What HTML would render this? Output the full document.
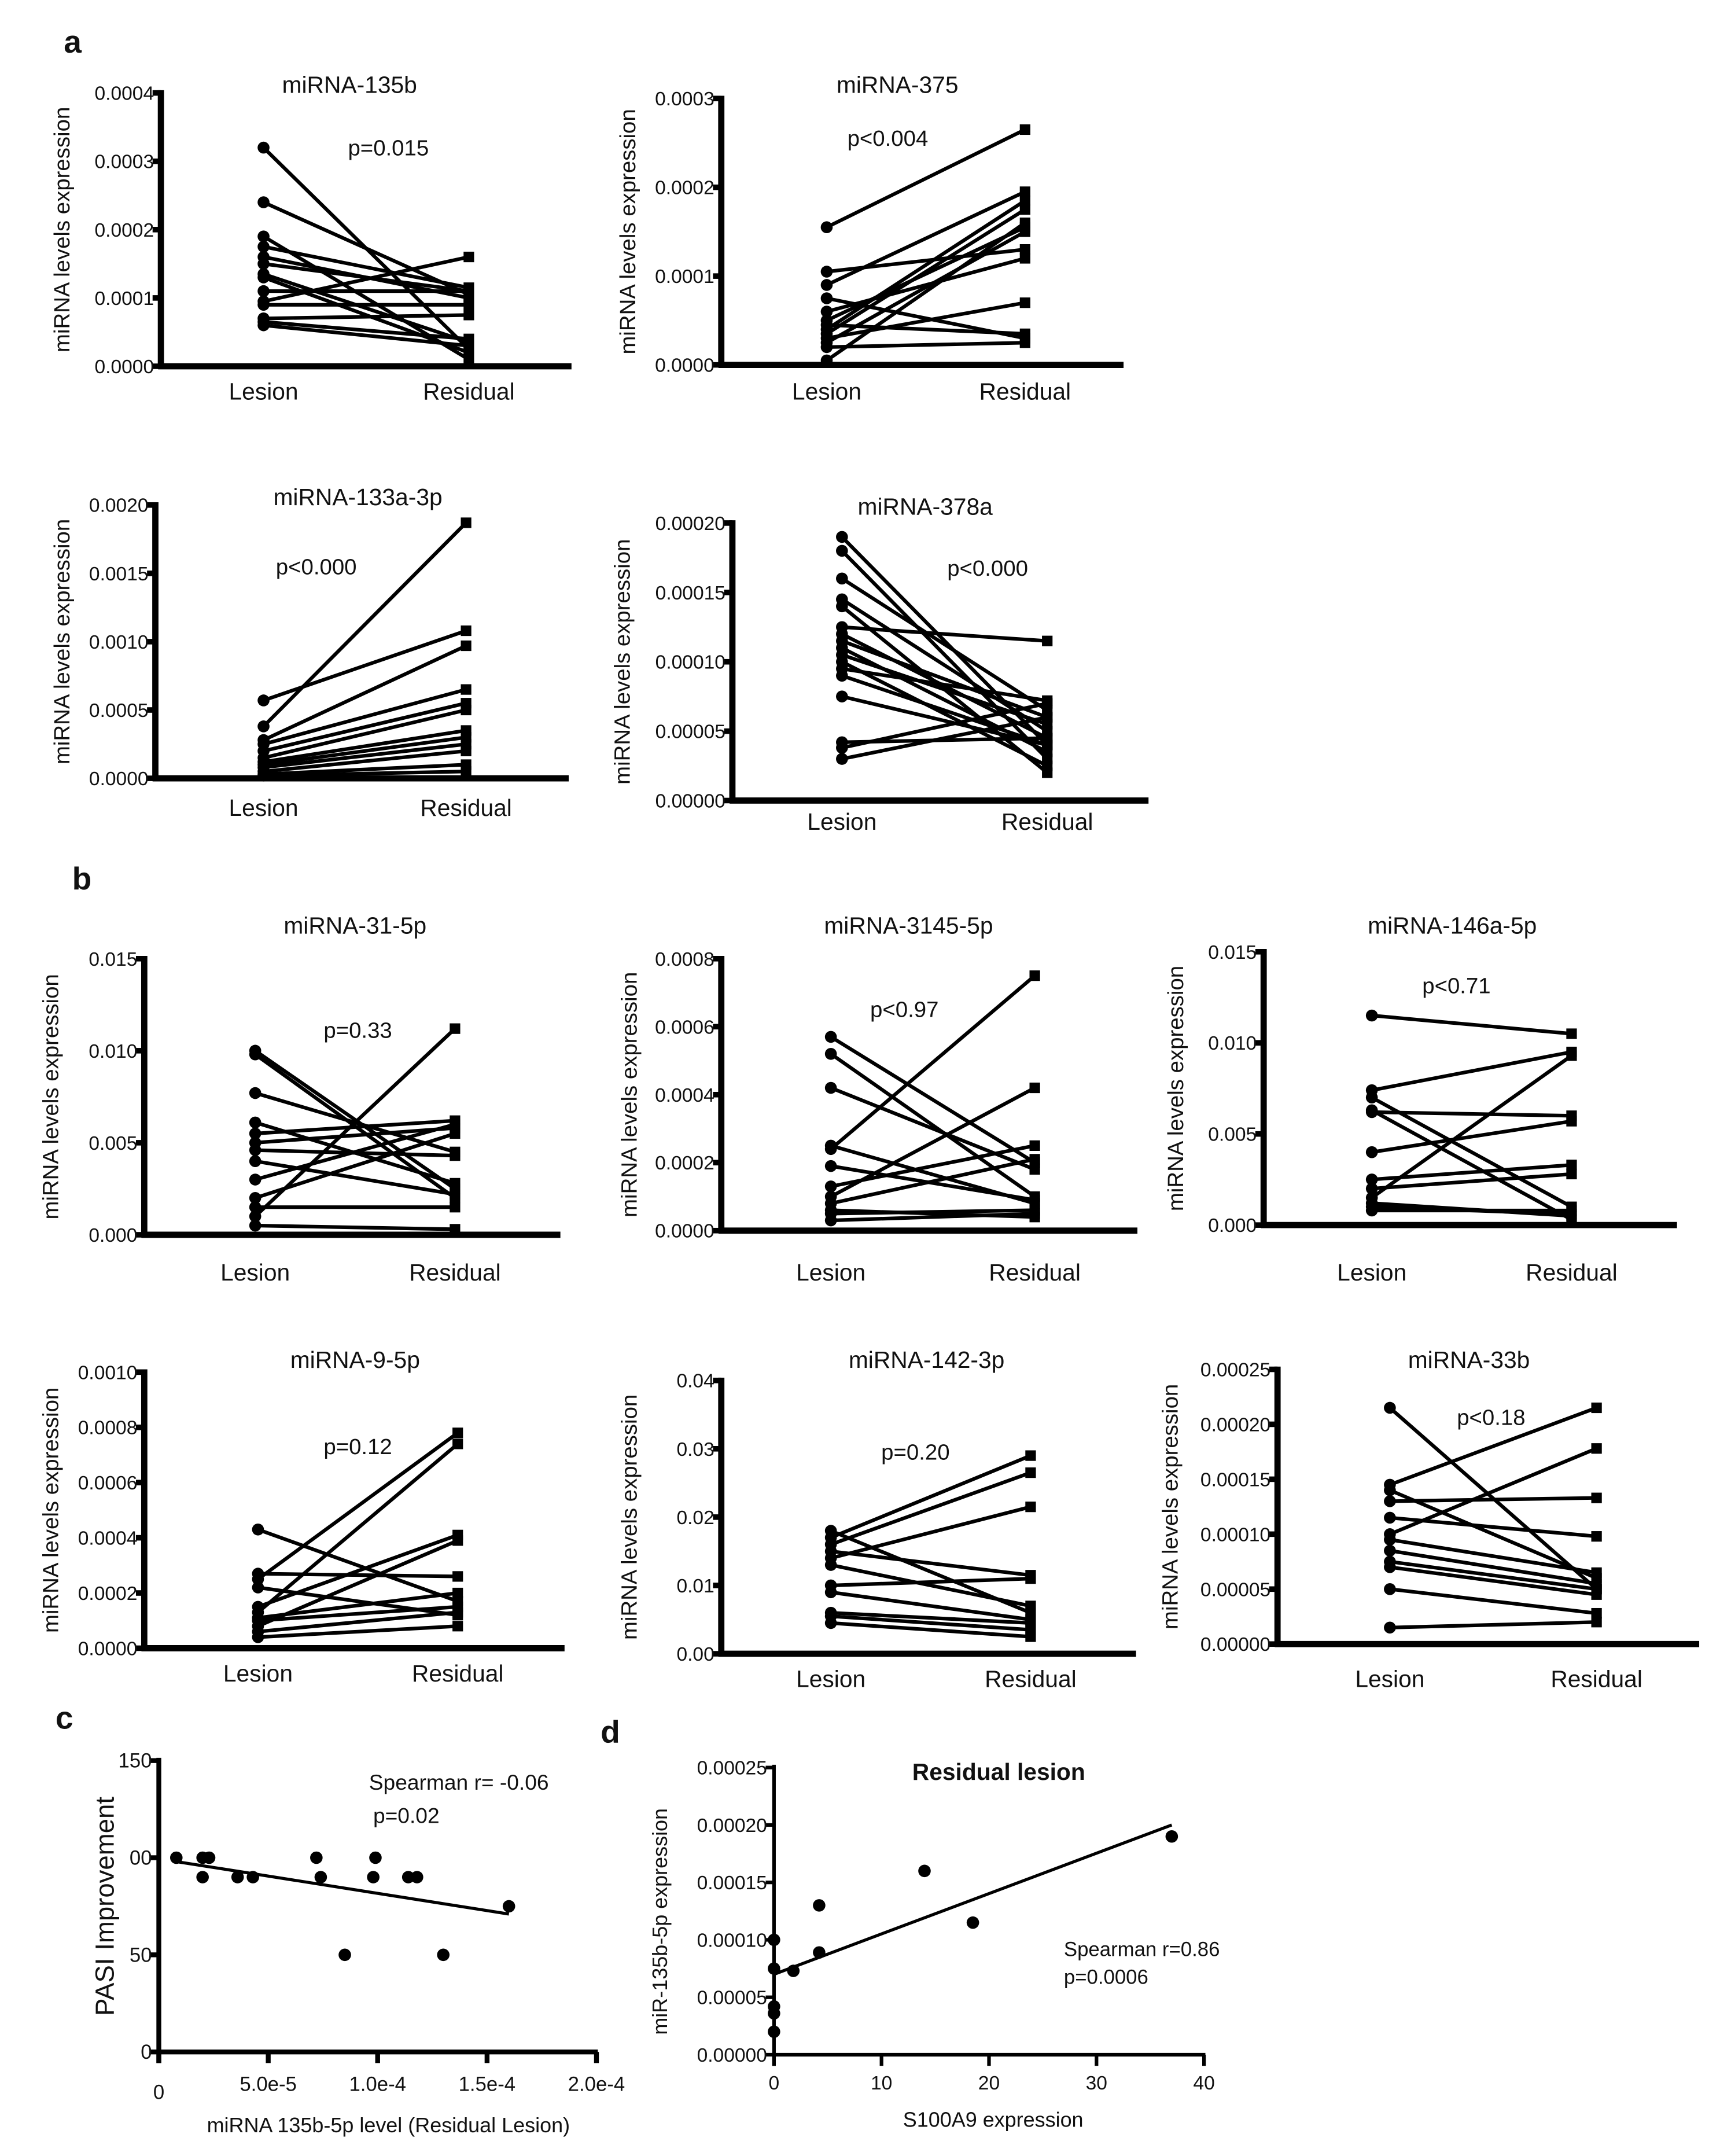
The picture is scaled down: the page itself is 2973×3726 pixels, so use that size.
<!DOCTYPE html>
<html><head><meta charset="utf-8">
<style>
html,body{margin:0;padding:0;background:#fff;}
svg{display:block;}
text{font-family:"Liberation Sans",sans-serif;fill:#111;}
.t{font-family:"Liberation Sans",sans-serif;}
</style></head>
<body>
<svg id="fig" width="2973" height="3726" viewBox="0 0 1240 1554" preserveAspectRatio="none" xmlns="http://www.w3.org/2000/svg">
<text class="t" x="46" y="38" font-size="23" font-weight="bold">a</text>
<text class="t" x="52" y="641" font-size="23" font-weight="bold">b</text>
<text class="t" x="40" y="1246" font-size="23" font-weight="bold">c</text>
<text class="t" x="433" y="1256" font-size="23" font-weight="bold">d</text>
</svg>
<script>
// ---- paired panel data (lesion vs residual) ----
const a1Lesion=[3.2e-4,2.4e-4,1.9e-4,1.75e-4,1.6e-4,1.5e-4,1.35e-4,1.3e-4,1.1e-4,0.95e-4,0.9e-4,0.7e-4,0.65e-4,0.6e-4];
const a1Residual=[0.25e-4,1.05e-4,0.1e-4,1.15e-4,1.0e-4,1.1e-4,0.35e-4,0.2e-4,1.1e-4,1.6e-4,0.9e-4,0.75e-4,0.4e-4,0.3e-4];
const a1Ticks=["0.0000","0.0001","0.0002","0.0003","0.0004"];
const a2Lesion=[1.55e-4,1.05e-4,0.9e-4,0.75e-4,0.6e-4,0.5e-4,0.45e-4,0.4e-4,0.35e-4,0.3e-4,0.25e-4,0.2e-4,0.05e-4];
const a2Residual=[2.65e-4,1.3e-4,1.95e-4,0.3e-4,1.2e-4,1.55e-4,0.35e-4,1.85e-4,1.75e-4,0.7e-4,1.5e-4,0.25e-4,1.6e-4];
const a2Ticks=["0.0000","0.0001","0.0002","0.0003"];
const a3Lesion=[0.57e-3,0.38e-3,0.28e-3,0.25e-3,0.2e-3,0.15e-3,0.12e-3,0.1e-3,0.08e-3,0.05e-3,0.03e-3,0.02e-3];
const a3Residual=[1.08e-3,1.87e-3,0.97e-3,0.65e-3,0.55e-3,0.5e-3,0.35e-3,0.3e-3,0.25e-3,0.2e-3,0.1e-3,0.05e-3];
const a3Ticks=["0.0000","0.0005","0.0010","0.0015","0.0020"];
const a4Lesion=[1.9e-4,1.8e-4,1.6e-4,1.45e-4,1.4e-4,1.25e-4,1.2e-4,1.15e-4,1.1e-4,1.05e-4,1.0e-4,0.95e-4,0.9e-4,0.75e-4,0.42e-4,0.38e-4,0.3e-4];
const a4Residual=[0.4e-4,0.3e-4,0.65e-4,0.5e-4,0.2e-4,1.15e-4,0.45e-4,0.6e-4,0.35e-4,0.55e-4,0.25e-4,0.72e-4,0.4e-4,0.4e-4,0.45e-4,0.7e-4,0.6e-4];
const a4Ticks=["0.00000","0.00005","0.00010","0.00015","0.00020"];
const b1Lesion=[10e-3,9.8e-3,7.7e-3,6.1e-3,5.5e-3,5e-3,4.6e-3,4e-3,3e-3,2e-3,1.5e-3,1e-3,0.5e-3];
const b1Residual=[2.5e-3,2.0e-3,4.5e-3,2.8e-3,6.2e-3,5.8e-3,4.3e-3,2.2e-3,6e-3,5.5e-3,1.5e-3,11.2e-3,0.3e-3];
const b1Ticks=["0.000","0.005","0.010","0.015"];
const b2Lesion=[5.7e-4,5.2e-4,4.2e-4,2.5e-4,2.4e-4,1.9e-4,1.3e-4,1.0e-4,0.8e-4,0.6e-4,0.5e-4,0.3e-4];
const b2Residual=[2.0e-4,1.0e-4,1.8e-4,0.8e-4,7.5e-4,0.9e-4,2.5e-4,4.2e-4,2.1e-4,0.4e-4,0.6e-4,0.5e-4];
const b2Ticks=["0.0000","0.0002","0.0004","0.0006","0.0008"];
const b3Lesion=[11.5e-3,7.4e-3,7e-3,6.3e-3,6.2e-3,4e-3,2.5e-3,2e-3,1.5e-3,1.2e-3,1e-3,0.8e-3];
const b3Residual=[10.5e-3,9.5e-3,1e-3,0.3e-3,6e-3,5.7e-3,3.3e-3,2.8e-3,9.3e-3,0.5e-3,0.6e-3,0.8e-3];
const b3Ticks=["0.000","0.005","0.010","0.015"];
const b4Lesion=[4.3e-4,2.7e-4,2.5e-4,2.2e-4,1.5e-4,1.3e-4,1.1e-4,1e-4,0.8e-4,0.6e-4,0.4e-4];
const b4Residual=[1.7e-4,2.6e-4,7.8e-4,1.2e-4,4.1e-4,7.4e-4,2.0e-4,1.5e-4,3.9e-4,1.3e-4,0.8e-4];
const b4Ticks=["0.0000","0.0002","0.0004","0.0006","0.0008","0.0010"];
const b5Lesion=[18e-3,17e-3,16e-3,15e-3,14e-3,13e-3,10e-3,9e-3,6e-3,5.5e-3,4.5e-3];
const b5Residual=[6e-3,29e-3,26.5e-3,11.5e-3,21.5e-3,7e-3,11e-3,5e-3,4.5e-3,3.5e-3,2.5e-3];
const b5Ticks=["0.00","0.01","0.02","0.03","0.04"];
const b6Lesion=[21.5e-5,14.5e-5,14e-5,13e-5,11.5e-5,10e-5,9.5e-5,8.5e-5,7.5e-5,7e-5,5e-5,1.5e-5];
const b6Residual=[5e-5,21.5e-5,6e-5,13.3e-5,9.8e-5,17.8e-5,6.5e-5,5.5e-5,5e-5,4.5e-5,2.8e-5,2e-5];
const b6Ticks=["0.00000","0.00005","0.00010","0.00015","0.00020","0.00025"];
// ---- panel c ----
const cX=[0.8e-5,2e-5,2.3e-5,2e-5,3.6e-5,4.3e-5,7.2e-5,7.4e-5,8.5e-5,9.9e-5,9.8e-5,1.14e-4,1.18e-4,1.3e-4,1.6e-4];
const cY=[100,100,100,90,90,90,100,90,50,100,90,90,90,50,75];
const cFitX=[0.8e-5,1.6e-4];
const cFitY=[98,71];
const cYTicks=["0","50","00","150"];
const cYTickVals=[0,50,100,150];
const cXTicks=["0","5.0e-5","1.0e-4","1.5e-4","2.0e-4"];
const cXTickVals=[0,5e-5,1e-4,1.5e-4,2e-4];
// ---- panel d ----
const dX=[0,0,0,0,0,1.8,4.2,4.2,14,18.5,37];
const dY=[1e-4,0.75e-4,0.42e-4,0.36e-4,0.2e-4,0.73e-4,1.3e-4,0.89e-4,1.6e-4,1.15e-4,1.9e-4];
const dFitX=[0,37];
const dFitY=[0.7e-4,2.0e-4];
const dYTicks=["0.00000","0.00005","0.00010","0.00015","0.00020","0.00025"];
const dYTickVals=[0,5e-5,1e-4,1.5e-4,2e-4,2.5e-4];
const dXTicks=["0","10","20","30","40"];
const dXTickVals=[0,10,20,30,40];

const NS="http://www.w3.org/2000/svg";
const svg=document.getElementById('fig');
function mk(tag,attrs,parent){const e=document.createElementNS(NS,tag);for(const k in attrs)e.setAttribute(k,attrs[k]);(parent||svg).appendChild(e);return e;}
function txt(s,attrs,parent){const e=mk('text',attrs,parent);e.textContent=s;return e;}

function paired(id,title,pText,cfg,lesion,residual,ticks){
  const g=mk('g',{});
  
  
  const yMax=cfg.max;
  const ys=v=>cfg.y0-(v/yMax)*(cfg.y0-cfg.yt);
  for(let i=0;i<lesion.length;i++){
    const l=mk('line',{x1:cfg.xl,y1:ys(lesion[i]),x2:cfg.xr,y2:ys(residual[i]),stroke:'#000','stroke-width':2.6},g);
    
    
    const c=mk('circle',{cx:cfg.xl,cy:ys(lesion[i]),r:4.3,fill:'#000'},g);
    
    
    const r=mk('rect',{x:cfg.xr-3.8,y:ys(residual[i])-3.8,width:7.6,height:7.6,fill:'#000'},g);
    
    
  }
  const ya=mk('line',{x1:cfg.ax,y1:cfg.yt-2,x2:cfg.ax,y2:cfg.y0+2,stroke:'#000','stroke-width':4.5},g);
  
  
  const xa=mk('line',{x1:cfg.ax-2,y1:cfg.y0,x2:cfg.xend,y2:cfg.y0,stroke:'#000','stroke-width':4.5},g);
  
  
  const n=ticks.length-1;
  ticks.forEach((t,i)=>{
    const y=cfg.y0-(i/n)*(cfg.y0-cfg.yt);
    mk('line',{x1:cfg.ax-6,y1:y,x2:cfg.ax,y2:y,stroke:'#000','stroke-width':4},g);
    const tl=txt(t,{x:cfg.ax-5,y:y+5,'font-size':14,'text-anchor':'end'},g);
    
    
  });
  const t1=txt('Lesion',{class:'t',x:cfg.xl,y:cfg.xlab,'font-size':17,'text-anchor':'middle'},g);
  
  
  const t2=txt('Residual',{class:'t',x:cfg.xr,y:cfg.xlab,'font-size':17,'text-anchor':'middle'},g);
  
  
  const tt=txt(title,{class:'t',x:cfg.tx,y:cfg.ty,'font-size':17,'text-anchor':'middle'},g);
  
  
  const pt=txt(pText,{class:'t',x:cfg.px,y:cfg.py,'font-size':16,'text-anchor':'middle'},g);
  
  
  const yt=txt('miRNA levels expression',{class:'t','font-size':16,'text-anchor':'middle',transform:`translate(${cfg.ytx},${(cfg.y0+cfg.yt)/2}) rotate(-90)`},g);
  
  
}

paired('mirna-135b','miRNA-135b','p=0.015',{ax:116,y0:264,yt:67,max:4e-4,xl:190,xr:338,xend:412,xlab:288,tx:252,ty:67,px:280,py:112,ytx:50},a1Lesion,a1Residual,a1Ticks);
paired('mirna-375','miRNA-375','p<0.004',{ax:520,y0:263,yt:71,max:3e-4,xl:596,xr:739,xend:810,xlab:288,tx:647,ty:67,px:640,py:105,ytx:458},a2Lesion,a2Residual,a2Ticks);
paired('mirna-133a-3p','miRNA-133a-3p','p<0.000',{ax:112,y0:561,yt:364,max:2e-3,xl:190,xr:336,xend:410,xlab:588,tx:258,ty:364,px:228,py:414,ytx:50},a3Lesion,a3Residual,a3Ticks);
paired('mirna-378a','miRNA-378a','p<0.000',{ax:528,y0:577,yt:377,max:2e-4,xl:607,xr:755,xend:828,xlab:598,tx:667,ty:371,px:712,py:415,ytx:454},a4Lesion,a4Residual,a4Ticks);
paired('mirna-31-5p','miRNA-31-5p','p=0.33',{ax:104,y0:890,yt:691,max:0.015,xl:184,xr:328,xend:404,xlab:923,tx:256,ty:673,px:258,py:748,ytx:42},b1Lesion,b1Residual,b1Ticks);
paired('mirna-3145-5p','miRNA-3145-5p','p<0.97',{ax:520,y0:887,yt:691,max:8e-4,xl:599,xr:746,xend:820,xlab:923,tx:655,ty:673,px:652,py:733,ytx:459},b2Lesion,b2Residual,b2Ticks);
paired('mirna-146a-5p','miRNA-146a-5p','p<0.71',{ax:911,y0:883,yt:686,max:0.015,xl:989,xr:1133,xend:1209,xlab:923,tx:1047,ty:673,px:1050,py:716,ytx:853},b3Lesion,b3Residual,b3Ticks);
paired('mirna-9-5p','miRNA-9-5p','p=0.12',{ax:104,y0:1188,yt:989,max:1e-3,xl:186,xr:330,xend:407,xlab:1212,tx:256,ty:986,px:258,py:1048,ytx:42},b4Lesion,b4Residual,b4Ticks);
paired('mirna-142-3p','miRNA-142-3p','p=0.20',{ax:520,y0:1192,yt:995,max:0.04,xl:599,xr:743,xend:819,xlab:1216,tx:668,ty:986,px:660,py:1052,ytx:459},b5Lesion,b5Residual,b5Ticks);
paired('mirna-33b','miRNA-33b','p<0.18',{ax:921,y0:1185,yt:987,max:2.5e-4,xl:1002,xr:1151,xend:1225,xlab:1216,tx:1059,ty:986,px:1075,py:1027,ytx:849},b6Lesion,b6Residual,b6Ticks);

function scatter(id,cfg,X,Y,fx,fy,yT,yTV,xT,xTV){
  const g=mk('g',{});
  
  
  const xs=v=>cfg.ax+(v-cfg.xmin)/(cfg.xmax-cfg.xmin)*(cfg.xend-cfg.ax);
  const ys=v=>cfg.y0-(v-cfg.ymin)/(cfg.ymax-cfg.ymin)*(cfg.y0-cfg.yt);
  const ya=mk('line',{x1:cfg.ax,y1:cfg.yt-2,x2:cfg.ax,y2:cfg.y0+8,stroke:'#000','stroke-width':cfg.aw},g);
  
  
  const xa=mk('line',{x1:cfg.ax,y1:cfg.y0,x2:cfg.xend+1,y2:cfg.y0,stroke:'#000','stroke-width':cfg.aw},g);
  
  
  yT.forEach((t,i)=>{const y=ys(yTV[i]);
    mk('line',{x1:cfg.ax-6,y1:y,x2:cfg.ax,y2:y,stroke:'#000','stroke-width':cfg.aw},g);
    const tl=txt(t,{x:cfg.ax-5,y:y+5,'font-size':cfg.fs,'text-anchor':'end'},g);
    
    });
  xT.forEach((t,i)=>{const x=xs(xTV[i]);
    mk('line',{x1:x,y1:cfg.y0,x2:x,y2:cfg.y0+8,stroke:'#000','stroke-width':cfg.aw},g);
    const tl=txt(t,{x:x,y:cfg.xty+(i===0?cfg.zeroDrop:0),'font-size':cfg.fs,'text-anchor':'middle'},g);
    
    });
  const fl=mk('line',{x1:xs(fx[0]),y1:ys(fy[0]),x2:xs(fx[1]),y2:ys(fy[1]),stroke:'#000','stroke-width':2.2},g);
  
  
  X.forEach((v,i)=>{const c=mk('circle',{cx:xs(v),cy:ys(Y[i]),r:4.5,fill:'#000'},g);
    
    });
  return g;
}
const gc=scatter('pasi',{ax:114.5,y0:1479,yt:1269,xend:430,xmin:0,xmax:2e-4,ymin:0,ymax:150,aw:3.5,fs:14.5,xty:1507,zeroDrop:6},cX,cY,cFitX,cFitY,cYTicks,cYTickVals,cXTicks,cXTickVals);
let e;
e=txt('Spearman r= -0.06',{x:266,y:1290,'font-size':15.5},gc);  
e=txt('p=0.02',{x:269,y:1314,'font-size':15.5},gc);  
e=txt('miRNA 135b-5p level (Residual Lesion)',{x:280,y:1537,'font-size':15,'text-anchor':'middle'},gc);  
e=txt('PASI Improvement',{class:'t','font-size':19,'text-anchor':'middle',transform:'translate(82,1374) rotate(-90)'},gc);  

const gd=scatter('s100a9',{ax:558,y0:1481,yt:1274,xend:868,xmin:0,xmax:40,ymin:0,ymax:2.5e-4,aw:2.6,fs:14,xty:1506,zeroDrop:0},dX,dY,dFitX,dFitY,dYTicks,dYTickVals,dXTicks,dXTickVals);
e=txt('Residual lesion',{class:'t',x:720,y:1283,'font-size':17,'font-weight':'bold','text-anchor':'middle'},gd);  
e=txt('Spearman r=0.86',{x:767,y:1410,'font-size':14.5},gd);  
e=txt('p=0.0006',{x:767,y:1430,'font-size':14.5},gd);  
e=txt('S100A9 expression',{x:716,y:1533,'font-size':15,'text-anchor':'middle'},gd);  
e=txt('miR-135b-5p expression',{class:'t','font-size':15,'text-anchor':'middle',transform:'translate(481,1385) rotate(-90)'},gd);  
</script>
</body></html>
